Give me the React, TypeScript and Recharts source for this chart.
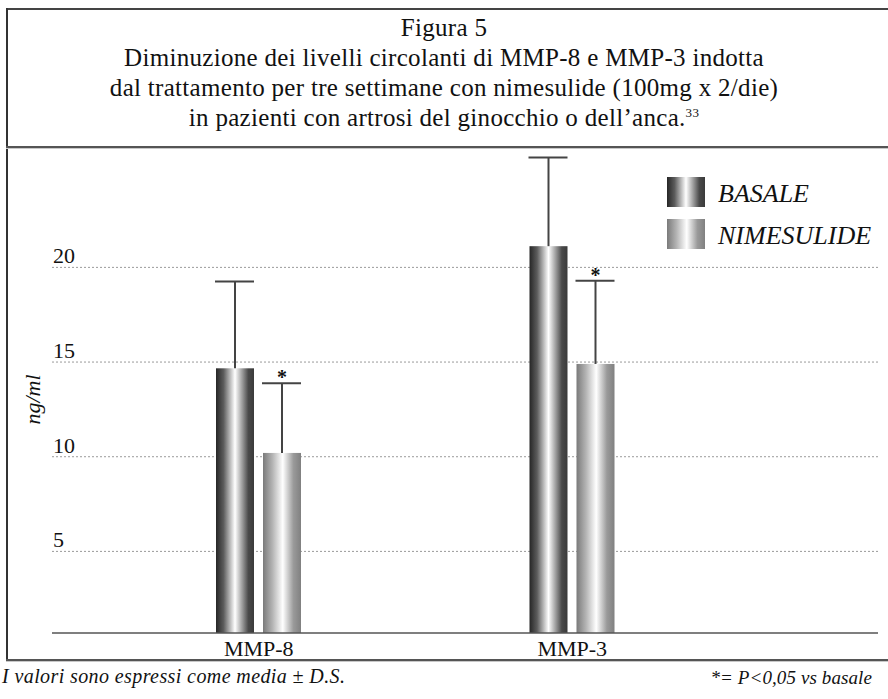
import React from "react"
import { BarChart, Bar, XAxis, YAxis, CartesianGrid, Legend } from "recharts"

const categories = ["MMP-8", "MMP-3"]
const basale = [14.67, 21.12]
const basaleSD = [4.59, 4.68]
const nimesulide = [10.2, 14.9]
const nimesulideSD = [3.68, 4.39]
const nimesulideSig = [true, true]
const yTicks = [5, 10, 15, 20]

const Y_MIN = 0.69
const Y_MAX = 26.2
const SERIF = "'Liberation Serif', 'Times New Roman', serif"

const data = categories.map((name, i) => ({
  name,
  basale: basale[i],
  basaleSD: basaleSD[i],
  nimesulide: nimesulide[i],
  nimesulideSD: nimesulideSD[i],
  sig: nimesulideSig[i],
}))

const GRAD_BASALE = "linear-gradient(to right, #262626 0%, #5c5c5c 20%, #ffffff 50%, #4a4a4a 85%, #3a3a3a 100%)"
const GRAD_NIME = "linear-gradient(to right, #7a7a7a 0%, #b4b4b4 25%, #ffffff 52%, #9a9a9a 80%, #808080 100%)"

const makeShape = (valKey: string, sdKey: string, gradId: string, sigKey?: string) => (props: any) => {
  const { x, y, width, height, payload } = props
  const v = payload[valKey]
  const ppu = height / (v - Y_MIN)
  const eTop = y - payload[sdKey] * ppu
  const cx = x + width / 2
  return (
    <g>
      <rect x={x} y={y} width={width} height={height} fill={`url(#${gradId})`} />
      <line x1={cx} x2={cx} y1={y} y2={eTop} stroke="#444" strokeWidth={2} />
      <line x1={x - 1} x2={x + width} y1={eTop} y2={eTop} stroke="#444" strokeWidth={2} />
      {sigKey && payload[sigKey] ? (
        <text x={cx} y={eTop + 1} textAnchor="middle" fontSize={20} fontWeight="bold" fontFamily={SERIF} fill="#111">*</text>
      ) : null}
    </g>
  )
}

function YTick({ y, payload }: any) {
  return (
    <text x={53} y={y - 4} fontSize={22} fontFamily={SERIF} fill="#111" textAnchor="start">
      {payload.value}
    </text>
  )
}

function XTick({ x, y, payload }: any) {
  return (
    <text x={x} y={y + 15} fontSize={22} fontFamily={SERIF} fill="#111" textAnchor="middle">
      {payload.value}
    </text>
  )
}

function YLabel({ viewBox }: any) {
  const cy = viewBox.y + viewBox.height / 2 + 8
  return (
    <text x={35} y={cy} transform={`rotate(-90 35 ${cy})`} textAnchor="middle" fontSize={22}
      fontStyle="italic" fontFamily={SERIF} fill="#111" dominantBaseline="middle">
      ng/ml
    </text>
  )
}

function LegendBox() {
  const rows = [
    { label: "BASALE", bg: GRAD_BASALE },
    { label: "NIMESULIDE", bg: GRAD_NIME },
  ]
  return (
    <div>
      {rows.map((r) => (
        <div key={r.label} style={{ display: "flex", height: 30, marginBottom: 12 }}>
          <div style={{ width: 38, height: 30, background: r.bg }} />
          <span style={{ marginLeft: 13, marginTop: 2, fontFamily: SERIF, fontStyle: "italic", fontSize: 26, lineHeight: "30px", color: "#111" }}>
            {r.label}
          </span>
        </div>
      ))}
    </div>
  )
}

const line = (top: number, h: number, bg: string, left = 6, width = 882): React.CSSProperties => ({
  position: "absolute", top, left, width, height: h, background: bg,
})

const footer: React.CSSProperties = {
  position: "absolute", top: 665, fontFamily: SERIF, fontStyle: "italic", fontSize: 20,
  letterSpacing: 0.4, lineHeight: "22px", color: "#111", whiteSpace: "nowrap",
}

export default function App() {
  return (
    <div style={{ position: "absolute", left: 0, top: 0, width: 888, height: 699, background: "#fff", overflow: "hidden" }}>
      <div style={line(8, 2, "#444")} />
      <div style={{ position: "absolute", left: 6, top: 8, width: 2, height: 654, background: "#333" }} />
      <div style={line(146, 2, "#555")} />
      <div style={line(148, 1, "#c8c8c8")} />
      <div style={line(659, 2, "#555")} />
      <div style={line(661, 1, "#c8c8c8")} />

      <div style={{ position: "absolute", top: 13, left: 0, width: 888, textAlign: "center", fontFamily: SERIF, fontSize: 25, letterSpacing: 0.3, lineHeight: "30px", color: "#111" }}>
        <div>Figura 5</div>
        <div>Diminuzione dei livelli circolanti di MMP-8 e MMP-3 indotta</div>
        <div>dal trattamento per tre settimane con nimesulide (100mg x 2/die)</div>
        <div>in pazienti con artrosi del ginocchio o dell’anca.<sup style={{ fontSize: 13, verticalAlign: "9px", lineHeight: 0 }}>33</sup></div>
      </div>

      <div style={{ position: "absolute", left: 0, top: 0 }}>
        <BarChart width={888} height={699} data={data} margin={{ top: 150, right: 10, bottom: 36, left: 8 }}
          barSize={38} barGap={9}>
          <defs>
            <linearGradient id="gBasale" x1="0" y1="0" x2="1" y2="0">
              <stop offset="0%" stopColor="#262626" />
              <stop offset="20%" stopColor="#5c5c5c" />
              <stop offset="50%" stopColor="#ffffff" />
              <stop offset="85%" stopColor="#4a4a4a" />
              <stop offset="100%" stopColor="#3a3a3a" />
            </linearGradient>
            <linearGradient id="gNime" x1="0" y1="0" x2="1" y2="0">
              <stop offset="0%" stopColor="#7a7a7a" />
              <stop offset="25%" stopColor="#b4b4b4" />
              <stop offset="52%" stopColor="#ffffff" />
              <stop offset="80%" stopColor="#9a9a9a" />
              <stop offset="100%" stopColor="#808080" />
            </linearGradient>
          </defs>
          <CartesianGrid vertical={false} stroke="#9a9a9a" strokeDasharray="2 2" horizontalValues={yTicks} />
          <XAxis dataKey="name" height={30} padding={{ left: 50, right: 149 }} tickLine={false}
            axisLine={{ stroke: "#555", strokeWidth: 1.5 }} tick={<XTick />} interval={0} />
          <YAxis width={44} domain={[Y_MIN, Y_MAX]} ticks={yTicks} allowDataOverflow type="number"
            axisLine={false} tickLine={false} tick={<YTick />} label={<YLabel />} />
          <Legend content={<LegendBox />} layout="horizontal" verticalAlign="middle" align="center"
            wrapperStyle={{ position: "absolute", top: 177, left: 667, width: 220 }} />
          <Bar dataKey="basale" name="BASALE" isAnimationActive={false} shape={makeShape("basale", "basaleSD", "gBasale")} />
          <Bar dataKey="nimesulide" name="NIMESULIDE" isAnimationActive={false} shape={makeShape("nimesulide", "nimesulideSD", "gNime", "sig")} />
        </BarChart>
      </div>

      <div style={{ ...footer, left: 2 }}>
        I valori sono espressi come media ± D.S.
      </div>
      <div style={{ ...footer, right: 16, top: 667, fontSize: 19, letterSpacing: 0.1 }}>
        *= P&lt;0,05 vs basale
      </div>
    </div>
  )
}
